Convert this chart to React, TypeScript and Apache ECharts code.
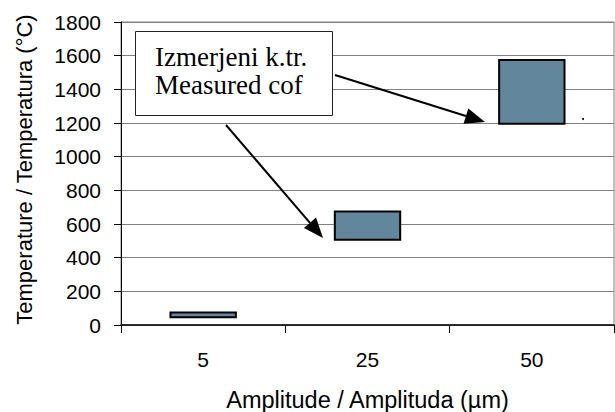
import React, { useEffect, useRef } from "react";
import * as echarts from "echarts";

const categories = ["5", "25", "50"];
const lowValues = [40, 500, 1190];
const highValues = [80, 680, 1580];
const yTicks = { min: 0, max: 1800, interval: 200 };
const noteLines = ["Izmerjeni k.tr.", "Measured cof"];

function arrow(x1: number, y1: number, x2: number, y2: number) {
  const dx = x2 - x1;
  const dy = y2 - y1;
  const len = Math.sqrt(dx * dx + dy * dy);
  const ux = dx / len;
  const uy = dy / len;
  const hl = 20;
  const hw = 8;
  const bx = x2 - ux * hl;
  const by = y2 - uy * hl;
  return [
    {
      type: "line",
      shape: { x1, y1, x2: bx, y2: by },
      style: { stroke: "#000", lineWidth: 2 },
      z: 100,
    },
    {
      type: "polygon",
      shape: {
        points: [
          [x2, y2],
          [bx - uy * hw, by + ux * hw],
          [bx + uy * hw, by - ux * hw],
        ],
      },
      style: { fill: "#000" },
      z: 100,
    },
  ];
}

export default function App() {
  const ref = useRef<HTMLDivElement>(null);
  useEffect(() => {
    if (!ref.current) return;
    const chart = echarts.init(ref.current, null, { renderer: "svg" });
    const font = "'Liberation Sans', Arial, sans-serif";
    chart.setOption({
      animation: false,
      backgroundColor: "#fff",
      grid: {
        left: 121,
        right: 1,
        top: 22,
        bottom: 87,
        show: true,
        borderColor: "#808080",
        borderWidth: 1,
        containLabel: false,
        outerBoundsMode: "none",
      },
      xAxis: {
        type: "category",
        data: categories,
        boundaryGap: true,
        name: "Amplitude / Amplituda (µm)",
        nameLocation: "middle",
        nameGap: 63,
        nameTextStyle: { fontFamily: font, fontSize: 23.5, color: "#000" },
        axisLine: { lineStyle: { color: "#000", width: 1.5 } },
        axisTick: { show: true, length: 8, lineStyle: { color: "#000" } },
        axisLabel: { fontFamily: font, fontSize: 21, color: "#000", margin: 24 },
        splitLine: { show: false },
      },
      yAxis: {
        type: "value",
        min: yTicks.min,
        max: yTicks.max,
        interval: yTicks.interval,
        name: "Temperature / Temperatura (°C)",
        nameLocation: "middle",
        nameGap: 86,
        nameRotate: 90,
        nameTextStyle: {
          fontFamily: font,
          fontSize: 22,
          color: "#000",
          padding: [0, 0, 0, 8],
        },
        axisLine: { show: true, lineStyle: { color: "#000", width: 1 } },
        axisTick: { show: true, length: 7, lineStyle: { color: "#000" } },
        axisLabel: {
          fontFamily: font,
          fontSize: 21,
          color: "#000",
          margin: 20,
          formatter: (v: number) => String(v),
        },
        splitLine: { show: true, lineStyle: { color: "#808080", width: 1 } },
      },
      series: [
        {
          type: "bar",
          stack: "range",
          data: lowValues,
          barWidth: "41%",
          itemStyle: { color: "transparent" },
          silent: true,
        },
        {
          type: "bar",
          stack: "range",
          data: highValues.map((h, i) => h - lowValues[i]),
          barWidth: "41%",
          itemStyle: { color: "#62879c", borderColor: "#000", borderWidth: 2 },
        },
      ],
      graphic: [
        {
          type: "rect",
          shape: { x: 135.5, y: 31.5, width: 197, height: 84 },
          style: { fill: "#fff", stroke: "#222", lineWidth: 1 },
          z: 99,
        },
        {
          type: "text",
          x: 155,
          y: 43,
          style: {
            text: noteLines.join("\n"),
            font: "27px 'Liberation Serif', 'Times New Roman', serif",
            lineHeight: 28,
            fill: "#000",
          },
          z: 101,
        },
        ...arrow(335, 75, 485, 122),
        ...arrow(226, 125, 323, 238),
        {
          type: "circle",
          shape: { cx: 583, cy: 119, r: 1 },
          style: { fill: "#000" },
          z: 100,
        },
      ],
    });
    return () => chart.dispose();
  }, []);
  return <div ref={ref} style={{ width: 615, height: 412, position: "absolute", left: 0, top: 0 }} />;
}
